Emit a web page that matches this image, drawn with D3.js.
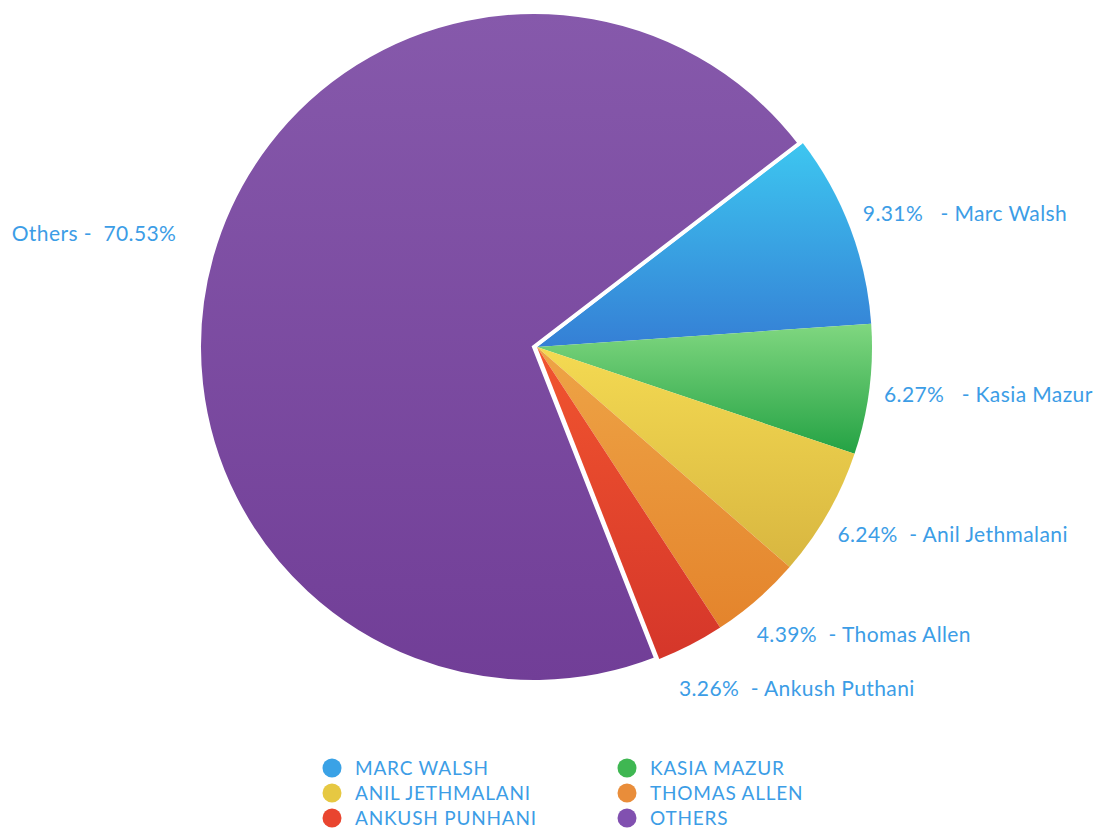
<!DOCTYPE html>
<html>
<head>
<meta charset="utf-8">
<script src="https://cdn.jsdelivr.net/npm/d3@7"></script>
<style>
  body { margin: 0; background: #ffffff; }
  text { font-family: Lato, "Open Sans", sans-serif; white-space: pre; }
</style>
</head>
<body>
<div id="pieChart"></div>
<script>
// slice data, clockwise from the split line at upper right
var names = ["Marc Walsh", "Kasia Mazur", "Anil Jethmalani", "Thomas Allen", "Ankush Puthani", "Others"];
var shares = [9.31, 6.27, 6.24, 4.39, 3.26, 70.53];
var legendNames = ["MARC WALSH", "KASIA MAZUR", "ANIL JETHMALANI", "THOMAS ALLEN", "ANKUSH PUNHANI", "OTHERS"];
var labelSpacing = ["   ", "   ", "  ", "  ", "  ", "  "];

// gradient top / bottom colours and legend dot colours
var topColors = ["#3dc6f0", "#80d780", "#f4da52", "#eea446", "#f1552f", "#8659ab"];
var bottomColors = ["#357fd5", "#24a244", "#d8b640", "#e4842c", "#d5362a", "#713e97"];
var dotColors = ["#3aa2e6", "#3fb752", "#e6c842", "#e98d3a", "#e9452f", "#8150b0"];

var width = 1104, height = 832;
var cx = 537, cy = 347, radius = 335;
var startDeg = 52.5;
var textColor = "#3c9de6";

var svg = d3.select("#pieChart").append("svg")
	.attr("width", width)
	.attr("height", height);

var defs = svg.append("defs");
names.forEach(function(n, i) {
	var grad = defs.append("linearGradient")
		.attr("id", "grad" + i)
		.attr("x1", 0).attr("y1", 0).attr("x2", 0).attr("y2", 1);
	grad.append("stop").attr("offset", "0%").attr("stop-color", topColors[i]);
	grad.append("stop").attr("offset", "100%").attr("stop-color", bottomColors[i]);
});

var start = startDeg * Math.PI / 180;
var pie = d3.pie()
	.sort(null)
	.value(function(d) { return d; })
	.startAngle(start)
	.endAngle(start + 2 * Math.PI);

var arcs = pie(shares);

var arc = d3.arc()
	.innerRadius(0)
	.outerRadius(radius);

var g = svg.append("g")
	.attr("transform", "translate(" + cx + "," + cy + ")");

// coloured slices first, then the big one with a white edge on top
var last = arcs.length - 1;
g.selectAll("path.slice")
	.data(arcs.slice(0, last))
	.enter().append("path")
	.attr("class", "slice")
	.attr("d", arc)
	.style("fill", function(d) { return "url(#grad" + d.index + ")"; });

g.append("path")
	.datum(arcs[last])
	.attr("transform", "translate(-3,0)")
	.attr("d", arc)
	.style("fill", "url(#grad" + last + ")")
	.style("stroke", "#ffffff")
	.style("stroke-width", 4)
	.style("stroke-linejoin", "miter");

// label placement: pushed slightly away from the horizontal and outward
function labelPos(d) {
	var mid = (d.startAngle + d.endAngle) / 2;
	var deg = mid * 180 / Math.PI;
	var rightSide = (deg % 360) < 180;
	var ref = rightSide ? 90 : 270;
	var off = (deg % 360) - ref;
	var a = (deg + 0.075 * off + (rightSide ? 0 : 0.8)) * Math.PI / 180;
	var r = 350 + 0.005 * off * off + (rightSide ? 0 : 27);
	return { x: r * Math.sin(a), y: -r * Math.cos(a), right: rightSide };
}

g.selectAll("text.label")
	.data(arcs)
	.enter().append("text")
	.attr("class", "label")
	.attr("x", function(d) { return labelPos(d).x; })
	.attr("y", function(d) { return labelPos(d).y; })
	.attr("dy", "0.35em")
	.style("text-anchor", function(d) { return labelPos(d).right ? "start" : "end"; })
	.style("font-size", "21px")
	.style("letter-spacing", "0.4px")
	.style("fill", textColor)
	.text(function(d) {
		var i = d.index;
		var pct = shares[i].toFixed(2) + "%";
		if (labelPos(d).right) return pct + labelSpacing[i] + "- " + names[i];
		return names[i] + " -" + labelSpacing[i] + pct;
	});

// legend, two columns, row by row
var colX = d3.scalePoint().domain([0, 1]).range([332, 627]);
var rowY = d3.scalePoint().domain([0, 1, 2]).range([768, 818]);

var legend = svg.append("g").attr("class", "legend")
	.selectAll("g")
	.data(legendNames)
	.enter().append("g")
	.attr("transform", function(d, i) { return "translate(" + colX(i % 2) + "," + rowY(Math.floor(i / 2)) + ")"; });

legend.append("circle")
	.attr("r", 9.5)
	.style("fill", function(d, i) { return dotColors[i]; });

legend.append("text")
	.attr("x", 23)
	.attr("dy", "0.36em")
	.style("font-size", "19px")
	.style("letter-spacing", "0.8px")
	.style("fill", textColor)
	.text(function(d) { return d; });
</script>
</body>
</html>
